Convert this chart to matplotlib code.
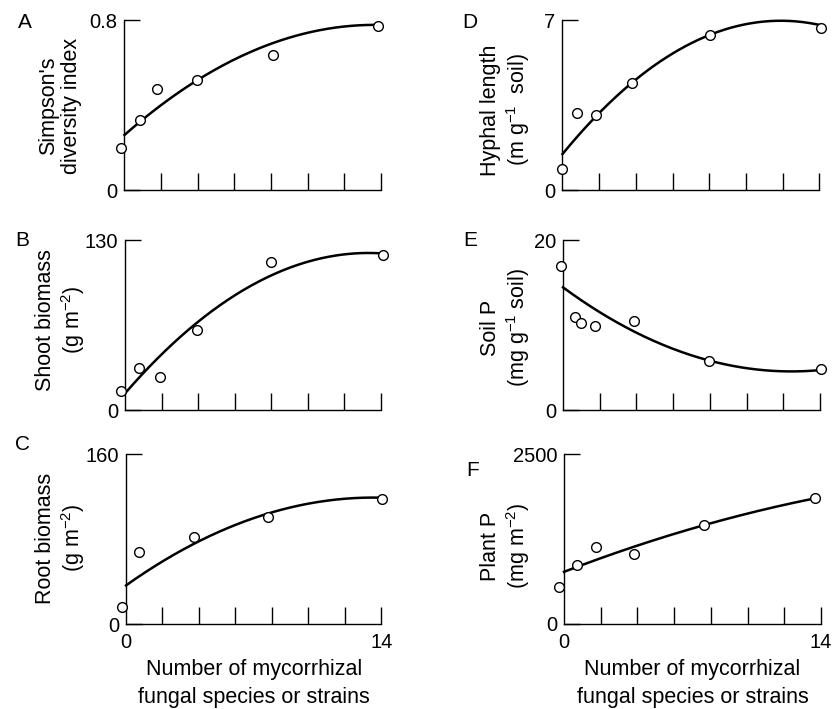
import numpy as np
import matplotlib
matplotlib.use("Agg")
import matplotlib.pyplot as plt

plt.rcParams["font.family"] = ["Liberation Sans", "DejaVu Sans"]
plt.rcParams["mathtext.fontset"] = "custom"
plt.rcParams["mathtext.rm"] = "Liberation Sans"
plt.rcParams["mathtext.it"] = "Liberation Sans:italic"
plt.rcParams["mathtext.bf"] = "Liberation Sans:bold"

# Mean responses vs. number of mycorrhizal fungal species or strains
x_A = [-0.2, 0.87, 1.8, 3.94, 8.1, 13.85]
simpson = [0.196, 0.329, 0.474, 0.518, 0.635, 0.772]

x_B = [-0.2, 0.76, 1.9, 3.96, 7.97, 14.1]
shoot = [14.5, 32.3, 25.0, 61.2, 113.4, 118.3]

x_C = [-0.2, 0.71, 3.74, 7.79, 14.04]
root = [15.6, 67.3, 82.3, 100.5, 117.7]

x_D = [0.0, 0.8, 1.82, 3.8, 8.03, 14.07]
hyphal = [0.85, 3.18, 3.08, 4.42, 6.39, 6.67]

x_E = [-0.13, 0.64, 0.96, 1.75, 3.85, 7.97, 14.08]
soil_p = [16.94, 10.98, 10.27, 9.88, 10.5, 5.76, 4.79]

x_F = [-0.26, 0.71, 1.73, 3.83, 7.64, 13.67]
plant_p = [531.6, 865.3, 1131, 1028, 1451.6, 1854.7]

# Quadratic regression coefficients (intercept, linear, quadratic)
fit_A = [0.259, 0.0759, -0.00278]
fit_B = [12.7, 16.12, -0.605]
fit_C = [36.3, 12.2, -0.45]
fit_D = [1.48, 0.923, -0.0388]
fit_E = [14.43, -1.59, 0.0639]
fit_F = [762, 104.15, -1.818]

y_max = {"A": 0.8, "B": 130, "C": 160, "D": 7, "E": 20, "F": 2500}
y_tick_text = {"A": "0.8", "B": "130", "C": "160", "D": "7", "E": "20", "F": "2500"}

ylabels = {
    "A": "Simpson's\ndiversity index",
    "B": "Shoot biomass\n(g m$^{-2}$)",
    "C": "Root biomass\n(g m$^{-2}$)",
    "D": "Hyphal length\n(m g$^{-1}$  soil)",
    "E": "Soil P\n(mg g$^{-1}$ soil)",
    "F": "Plant P\n(mg m$^{-2}$)",
}

W, H = 837, 709
fig = plt.figure(figsize=(W / 100, H / 100), dpi=100)

# axes boxes in pixels: left, top, right, bottom
boxes = {
    "A": (124.5, 20, 381, 190),
    "B": (125, 240, 381, 410),
    "C": (126, 454, 381.5, 624),
    "D": (562.5, 20, 819.5, 190),
    "E": (563, 240, 820, 410),
    "F": (564, 454, 821, 623.5),
}
letter_pos = {"A": (25, 23), "B": (22, 241), "C": (23, 445),
              "D": (470, 23), "E": (470, 241), "F": (473, 470)}
label_pos = {"A": (60, 106), "B": (61, 320), "C": (61, 538),
             "D": (506, 110), "E": (506, 328), "F": (506, 546)}

panels = {
    "A": (x_A, simpson, fit_A),
    "B": (x_B, shoot, fit_B),
    "C": (x_C, root, fit_C),
    "D": (x_D, hyphal, fit_D),
    "E": (x_E, soil_p, fit_E),
    "F": (x_F, plant_p, fit_F),
}

FS_TICK = 14.5
FS_LAB = 15.5
for key, (xs, ys, coef) in panels.items():
    l, t, r, b = boxes[key]
    ax = fig.add_axes([l / W, 1 - b / H, (r - l) / W, (b - t) / H])
    xx = np.linspace(0, max(xs), 200)
    yy = coef[0] + coef[1] * xx + coef[2] * xx ** 2
    ax.plot(xx, yy, color="black", lw=1.8, clip_on=False, zorder=2)
    ax.plot(xs, ys, "o", ms=7, mfc="white", mec="black", mew=1.0,
            clip_on=False, zorder=3)
    ax.set_xlim(0, 14)
    ax.set_ylim(0, y_max[key])
    for s in ("top", "right"):
        ax.spines[s].set_visible(False)
    for s in ("left", "bottom"):
        ax.spines[s].set_linewidth(1.0)
    ax.set_yticks([0, y_max[key]])
    ax.set_yticklabels(["0", y_tick_text[key]], fontsize=FS_TICK)
    ax.tick_params(axis="y", direction="in", length=11.5, width=1.0, pad=5)
    ax.set_xticks(np.arange(2, 15, 2))
    ax.tick_params(axis="x", direction="in", length=12, width=1.0)
    ax.set_xticklabels([])
    if key in ("C", "F"):
        ax.text(0, -0.11, "0", transform=ax.transAxes, ha="center",
                va="center", fontsize=FS_TICK)
        ax.text(1, -0.11, "14", transform=ax.transAxes, ha="center",
                va="center", fontsize=FS_TICK)
        cx = (l + r) / 2 / W
        fig.text(cx, 1 - 670 / H, "Number of mycorrhizal", ha="center",
                 va="center", fontsize=FS_LAB)
        fig.text(cx, 1 - 698 / H, "fungal species or strains", ha="center",
                 va="center", fontsize=FS_LAB)
    lx, ly = letter_pos[key]
    fig.text(lx / W, 1 - ly / H, key, ha="center", va="center", fontsize=15)
    px, py = label_pos[key]
    fig.text(px / W, 1 - py / H, ylabels[key], rotation=90, ha="center",
             va="center", multialignment="center", fontsize=FS_LAB,
             linespacing=1.15)

fig.savefig("out.png", dpi=100, facecolor="white")
